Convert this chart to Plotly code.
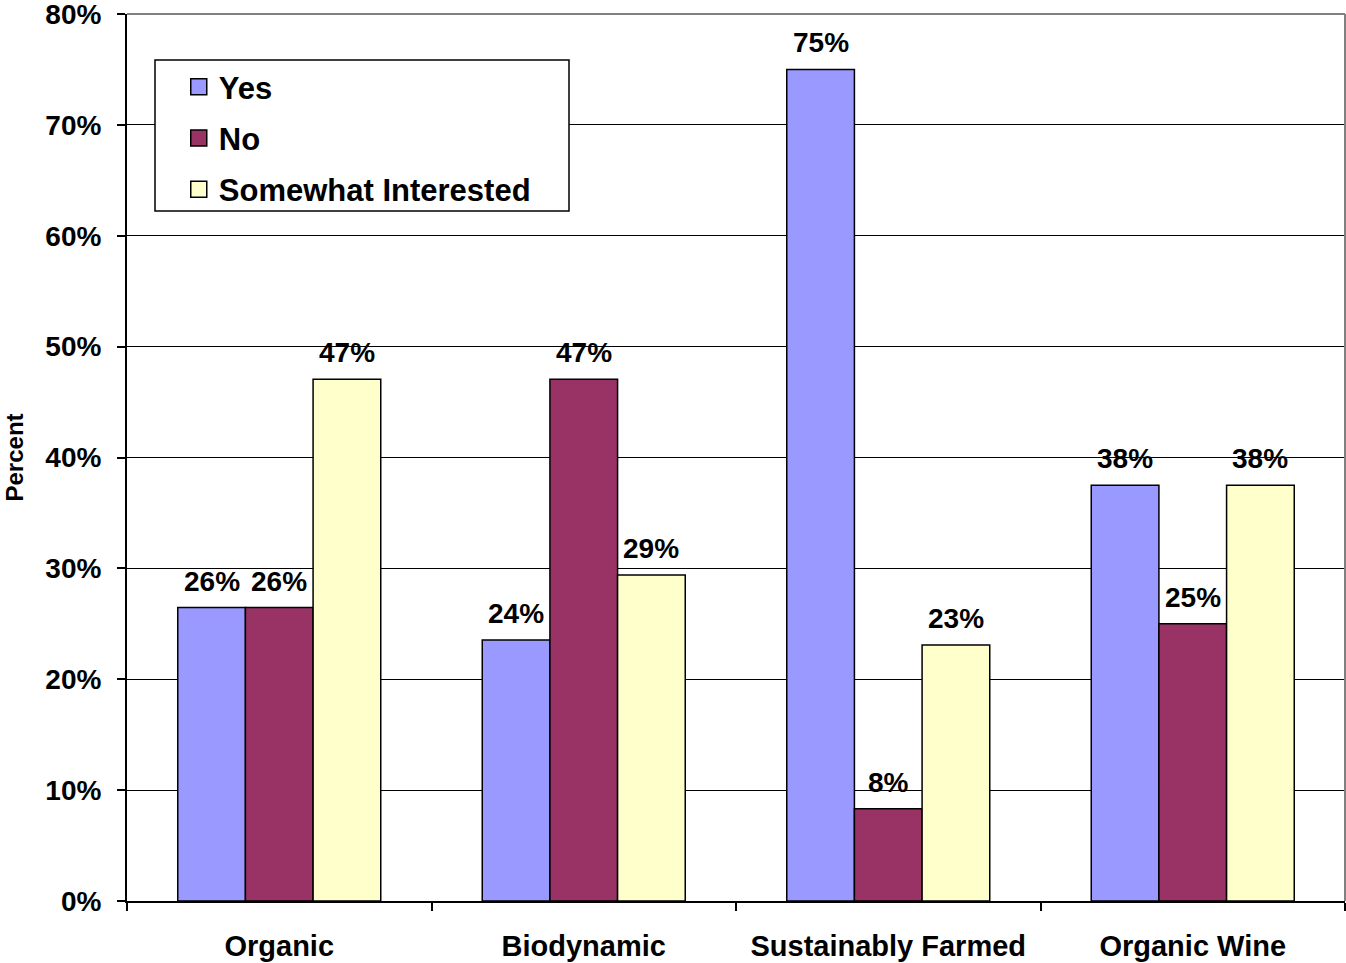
import plotly.graph_objects as go

# Survey responses by production claim (percent of respondents)
categories = ["Organic", "Biodynamic", "Sustainably Farmed", "Organic Wine"]
yes_pct = [26.47, 23.53, 75.0, 37.5]
no_pct = [26.47, 47.06, 8.33, 25.0]
somewhat_pct = [47.06, 29.41, 23.1, 37.5]

series = [
    ("Yes", yes_pct, "#9999FF"),
    ("No", no_pct, "#993366"),
    ("Somewhat Interested", somewhat_pct, "#FFFFCC"),
]

y_ticks = [0, 10, 20, 30, 40, 50, 60, 70, 80]
y_tick_text = [f"{v}%" for v in y_ticks]

FONT = "Liberation Sans, Arial, sans-serif"


def bold(size):
    return dict(family=FONT, size=size, color="black", weight="bold")


W, H = 1346, 963
M_L, M_R, M_T, M_B = 127, 1, 14, 62
plot_w = W - M_L - M_R
plot_h = H - M_T - M_B
BARGAP = 1 / 3
bar_px = plot_w / len(categories) * (1 - BARGAP) / len(series)

fig = go.Figure()
annotations = []
for i, (name, vals, color) in enumerate(series):
    fig.add_trace(go.Bar(
        name=name,
        x=categories,
        y=vals,
        marker=dict(color=color, line=dict(color="black", width=1.5)),
        showlegend=False,
    ))
    # legend entry with a larger square swatch
    fig.add_trace(go.Scatter(
        name=name,
        x=[None], y=[None],
        mode="markers",
        marker=dict(symbol="square", size=17, color=color,
                    line=dict(color="black", width=1.5)),
        legendgroup=name,
    ))
    # value labels above each bar
    for cat, v in zip(categories, vals):
        annotations.append(dict(
            x=cat, y=v, xref="x", yref="y",
            text=f"{v:.0f}%",
            xshift=(i - 1) * bar_px, yshift=9,
            xanchor="center", yanchor="bottom", showarrow=False,
            font=bold(28),
        ))

annotations.append(dict(
    text="Percent", xref="paper", yref="paper", x=(14 - M_L) / plot_w, y=0.5,
    xanchor="center", yanchor="middle", textangle=-90, showarrow=False,
    font=bold(24),
))

fig.update_layout(
    width=W,
    height=H,
    margin=dict(l=M_L, r=M_R, t=M_T, b=M_B, autoexpand=False),
    paper_bgcolor="white",
    plot_bgcolor="white",
    barmode="group",
    bargap=BARGAP,
    bargroupgap=0,
    font=dict(family=FONT, color="black"),
    showlegend=True,
    legend=dict(
        x=0.0425, y=0.948, xanchor="left", yanchor="top",
        bgcolor="rgba(0,0,0,0)", borderwidth=0,
        font=bold(31),
        tracegroupgap=8,
        itemsizing="trace",
    ),
    xaxis=dict(
        showline=True, linecolor="black", linewidth=2,
        ticks="outside", tickson="boundaries", ticklen=8, tickcolor="black", tickwidth=1.5,
        tickfont=bold(29), ticklabelstandoff=18, automargin=False,
        showgrid=False,
    ),
    yaxis=dict(
        range=[0, 80], tickvals=y_ticks, ticktext=y_tick_text,
        showline=True, linecolor="black", linewidth=2,
        ticks="outside", ticklen=8, tickcolor="black", tickwidth=1.5,
        tickfont=bold(28), ticklabelstandoff=10, ticklabeloverflow="allow",
        automargin=False,
        showgrid=True, gridcolor="black", gridwidth=1.2,
        zeroline=False,
    ),
    shapes=[
        # plot-area frame on the top and right edges
        dict(type="line", xref="paper", yref="paper", x0=0, x1=1, y0=1, y1=1,
             line=dict(color="#808080", width=2), layer="above"),
        dict(type="line", xref="paper", yref="paper", x0=1, x1=1, y0=0, y1=1,
             line=dict(color="#808080", width=2), layer="above"),
        # legend box
        dict(type="rect", xref="paper", yref="paper",
             x0=(155 - M_L) / plot_w, x1=(569 - M_L) / plot_w,
             y0=(H - M_B - 211) / plot_h, y1=(H - M_B - 60) / plot_h,
             line=dict(color="black", width=1.5), fillcolor="white", layer="above"),
    ],
    annotations=annotations,
)

fig.write_html("out.html")
